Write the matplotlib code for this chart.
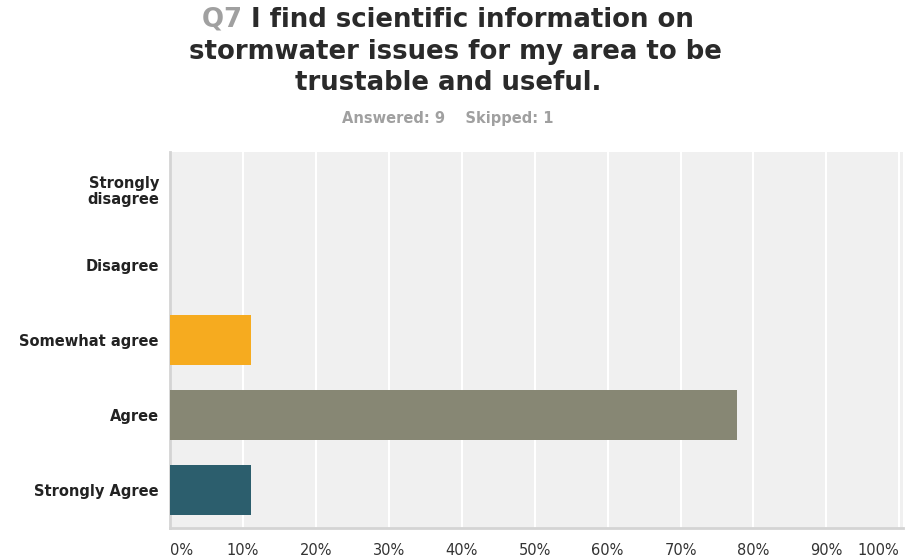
import matplotlib
matplotlib.use("Agg")
import matplotlib.pyplot as plt
import numpy as np

plt.rcParams['font.family'] = ['DejaVu Sans']

# survey answers (top to bottom)
categories = ['Strongly\ndisagree', 'Disagree', 'Somewhat agree', 'Agree', 'Strongly Agree']
percents = [0.0, 0.0, 11.11, 77.78, 11.11]
bar_colors = ['#5b9bd5', '#e05a4f', '#f6ab1f', '#878774', '#2c5e6d']
xticks = [0, 10, 20, 30, 40, 50, 60, 70, 80, 90, 100]
xtick_labels = ['%d%%' % v for v in xticks]

W, H = 913, 560
fig = plt.figure(figsize=(W / 100, H / 100), dpi=100)
fig.patch.set_facecolor('white')

# plot area in pixels: left 170, right 903, top 152, bottom 528
ax = fig.add_axes([170 / W, 1 - 528 / H, (903 - 170) / W, (528 - 152) / H])
ax.set_facecolor('#f0f0f0')

y = np.arange(len(categories))
ax.barh(y, percents, height=0.667, color=bar_colors, edgecolor='none', zorder=3)
ax.set_ylim(len(categories) - 0.5, -0.5)
ax.set_xlim(0, 100.5)

ax.set_xticks(xticks)
ax.set_xticklabels(xtick_labels, fontsize=10.5, color='#333333')
labs = ax.get_xticklabels()
labs[0].set_ha('left')
labs[-1].set_ha('right')
ax.tick_params(axis='x', length=0, pad=11)
ax.grid(axis='x', color='white', linewidth=1.5, zorder=1)
ax.set_axisbelow(True)

ax.set_yticks(y)
ax.set_yticklabels(categories, fontsize=10.5, fontweight='bold', color='#222222',
                   linespacing=1.05)
ax.tick_params(axis='y', length=0, pad=8)

for s in ['top', 'right']:
    ax.spines[s].set_visible(False)
ax.spines['left'].set_color('#d4d4d4')
ax.spines['left'].set_linewidth(2)
ax.spines['bottom'].set_color('#d4d4d4')
ax.spines['bottom'].set_linewidth(2)

# title, first word in grey
fs = 18.7
tcol = '#2a2a2a'
first_q = 'Q7 '
first_rest = 'I find scientific information on'
r = fig.canvas.get_renderer()
t_full = fig.text(448 / W, 1 - 20 / H, first_q + first_rest, fontsize=fs, fontweight='bold',
                  ha='center', va='center', alpha=0)
bb = t_full.get_window_extent(r)
fig.text(bb.x0 / W, 1 - 20 / H, first_q, fontsize=fs, fontweight='bold',
         ha='left', va='center', color='#a0a0a0')
fig.text(bb.x1 / W, 1 - 20 / H, first_rest, fontsize=fs, fontweight='bold',
         ha='right', va='center', color=tcol)
fig.text(455 / W, 1 - 52 / H, 'stormwater issues for my area to be', fontsize=fs, fontweight='bold',
         ha='center', va='center', color=tcol)
fig.text(448 / W, 1 - 83 / H, 'trustable and useful.', fontsize=fs, fontweight='bold',
         ha='center', va='center', color=tcol)

fig.text(448 / W, 1 - 118 / H, 'Answered: 9    Skipped: 1', fontsize=10.5, fontweight='bold',
         ha='center', va='center', color='#a0a0a0')

fig.savefig('out.png', dpi=100)
